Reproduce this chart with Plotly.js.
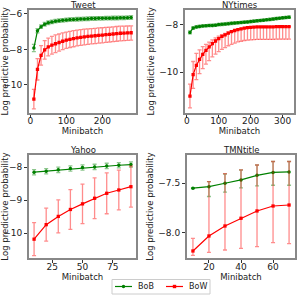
<!DOCTYPE html>
<html>
<head>
<meta charset="utf-8">
<script src="https://cdn.plot.ly/plotly-3.0.1.min.js"></script>
<style>html,body{margin:0;padding:0;background:#fff}#chart{width:298px;height:295px}</style>
</head>
<body>
<div id="chart"></div>
<script>
// ---------- Data ----------
const tweetX = [10,20,30,40,50,60,70,80,90,100,110,120,130,140,150,160,170,180,190,200,210,220,230,240,250,260,270,280];
const tweetBoB = [-7.92,-6.95,-6.72,-6.58,-6.50,-6.45,-6.41,-6.38,-6.36,-6.34,-6.32,-6.31,-6.30,-6.29,-6.28,-6.27,-6.26,-6.26,-6.25,-6.25,-6.24,-6.24,-6.23,-6.23,-6.22,-6.22,-6.21,-6.20];
const tweetBoBErr = [0.2,0.12,0.1,0.1,0.1,0.1,0.1,0.1,0.1,0.1,0.1,0.1,0.1,0.1,0.1,0.1,0.1,0.1,0.1,0.1,0.1,0.1,0.1,0.1,0.1,0.1,0.1,0.1];
const tweetBoW = [-10.80,-9.12,-8.33,-8.02,-7.86,-7.76,-7.68,-7.61,-7.54,-7.48,-7.43,-7.39,-7.35,-7.32,-7.29,-7.27,-7.25,-7.23,-7.21,-7.19,-7.17,-7.15,-7.13,-7.11,-7.09,-7.08,-7.07,-7.06];
const tweetBoWUp = [0.55,0.6,0.55,0.52,0.5,0.5,0.5,0.48,0.47,0.46,0.45,0.45,0.44,0.44,0.43,0.43,0.42,0.42,0.42,0.41,0.41,0.4,0.4,0.4,0.4,0.39,0.39,0.39];
const tweetBoWLo = [0.55,0.6,0.55,0.52,0.5,0.5,0.5,0.48,0.47,0.46,0.46,0.46,0.45,0.45,0.45,0.45,0.44,0.44,0.44,0.44,0.43,0.43,0.43,0.43,0.43,0.42,0.42,0.42];

const nytX = [10,20,30,40,50,60,70,80,90,100,110,120,130,140,150,160,170,180,190,200,210,220,230,240,250,260,270,280,290,300,310,320];
const nytBoB = [-8.33,-8.15,-8.10,-8.08,-8.06,-8.05,-8.04,-8.035,-8.025,-8.00,-7.99,-7.98,-7.965,-7.95,-7.94,-7.925,-7.915,-7.90,-7.89,-7.875,-7.86,-7.845,-7.83,-7.815,-7.80,-7.785,-7.77,-7.75,-7.735,-7.72,-7.705,-7.69];
const nytBoBErr = [0.06,0.05,0.05,0.05,0.05,0.05,0.05,0.05,0.05,0.05,0.05,0.05,0.05,0.05,0.05,0.05,0.05,0.05,0.05,0.05,0.05,0.05,0.05,0.05,0.05,0.05,0.05,0.05,0.05,0.05,0.05,0.05];
const nytBoW = [-11.00,-10.10,-9.71,-9.46,-9.25,-9.08,-8.94,-8.80,-8.69,-8.59,-8.50,-8.43,-8.36,-8.30,-8.25,-8.21,-8.18,-8.15,-8.13,-8.12,-8.11,-8.10,-8.10,-8.10,-8.10,-8.10,-8.10,-8.09,-8.09,-8.09,-8.09,-8.09];
const nytBoWUp = [0.5,0.55,0.5,0.4,0.32,0.25,0.2,0.16,0.13,0.1,0.08,0.06,0.05,0.04,0.03,0.02,0.02,0.01,0.01,0.01,0,0,0,0,0,0,0,0,0,0,0,0];
const nytBoWLo = [0.5,0.58,0.6,0.6,0.6,0.58,0.57,0.56,0.55,0.55,0.54,0.54,0.53,0.53,0.53,0.52,0.52,0.52,0.52,0.52,0.52,0.52,0.52,0.52,0.52,0.52,0.52,0.52,0.52,0.52,0.52,0.52];

const yahooX = [10,20,30,40,50,60,70,80,90];
const yahooBoB = [-8.15,-8.12,-8.08,-8.04,-8.01,-7.99,-7.96,-7.94,-7.92];
const yahooBoBErr = [0.08,0.08,0.08,0.08,0.08,0.08,0.08,0.08,0.08];
const yahooBoW = [-10.18,-9.74,-9.49,-9.28,-9.11,-8.94,-8.79,-8.69,-8.59];
const yahooBoWErr = [0.5,0.5,0.5,0.6,0.6,0.62,0.62,0.6,0.62];

const tmnX = [10,20,30,40,50,60,70];
const tmnBoB = [-7.55,-7.534,-7.50,-7.466,-7.42,-7.39,-7.385];
const tmnBoBUp = [0.005,0.05,0.094,0.1,0.105,0.11,0.105];
const tmnBoBLo = [0.005,0.1,0.09,0.08,0.107,0.13,0.135];
const tmnBoW = [-8.185,-8.033,-7.932,-7.854,-7.78,-7.73,-7.72];
const tmnBoWUp = [0.128,0.55,0.53,0.49,0.465,0.45,0.44];
const tmnBoWLo = [0.045,0.167,0.243,0.304,0.36,0.37,0.39];

const titles = ['Tweet','NYtimes','Yahoo','TMNtitle'];
const seriesNames = ['BoB','BoW'];

// ---------- Styles ----------
const GREEN = '#008000', RED = '#ff0000';
const GERR = 'rgba(0,128,0,0.45)', RERR = 'rgba(255,0,0,0.45)';
const FONT = 'DejaVu Sans, sans-serif';

function bob(x, y, up, lo, ax) {
  return {x: x, y: y, xaxis: 'x'+ax, yaxis: 'y'+ax, type: 'scatter', mode: 'lines+markers', name: seriesNames[0],
    showlegend: false,
    line: {color: GREEN, width: 1.2}, marker: {color: GREEN, size: 3.5, symbol: 'circle'},
    error_y: {type: 'data', symmetric: false, array: up, arrayminus: lo, color: GERR, thickness: 1.3, width: 2}};
}
function bow(x, y, up, lo, ax) {
  return {x: x, y: y, xaxis: 'x'+ax, yaxis: 'y'+ax, type: 'scatter', mode: 'lines+markers', name: seriesNames[1],
    showlegend: false,
    line: {color: RED, width: 1.2}, marker: {color: RED, size: 3.3, symbol: 'square'},
    error_y: {type: 'data', symmetric: false, array: up, arrayminus: lo, color: RERR, thickness: 1.3, width: 2}};
}

const data = [
  bob(tweetX, tweetBoB, tweetBoBErr, tweetBoBErr, ''),
  bow(tweetX, tweetBoW, tweetBoWUp, tweetBoWLo, ''),
  bob(nytX, nytBoB, nytBoBErr, nytBoBErr, '2'),
  bow(nytX, nytBoW, nytBoWUp, nytBoWLo, '2'),
  bob(yahooX, yahooBoB, yahooBoBErr, yahooBoBErr, '3'),
  bow(yahooX, yahooBoW, yahooBoWErr, yahooBoWErr, '3'),
  bob(tmnX, tmnBoB, tmnBoBUp, tmnBoBLo, '4'),
  bow(tmnX, tmnBoW, tmnBoWUp, tmnBoWLo, '4')
];

const W = 298, H = 295;
function dx(a, b) { return [a/W, b/W]; }
function dy(top, bot) { return [1-bot/H, 1-top/H]; }
function px(v) { return v/W; }
function py(v) { return 1 - v/H; }

function xa(dom, range, dtick, anchor) {
  return {domain: dom, range: range, dtick: dtick, tick0: 0, anchor: anchor,
    showline: true, mirror: true, linecolor: '#888', linewidth: 2,
    ticks: 'outside', ticklen: 3, tickcolor: '#333', showgrid: false, zeroline: false,
    tickfont: {size: 9, color: '#222'}, ticklabelstandoff: -4,
    title: {text: 'Minibatch', font: {size: 8.5, color: '#222'}, standoff: 0}};
}
function ya(dom, range, dtick, anchor, fmt) {
  const o = {domain: dom, range: range, dtick: dtick, tick0: 0, anchor: anchor,
    showline: true, mirror: true, linecolor: '#888', linewidth: 2,
    ticks: 'outside', ticklen: 3, tickcolor: '#333', showgrid: false, zeroline: false,
    tickfont: {size: 9, color: '#222'},
    title: {text: 'Log predictive probability', font: {size: 8.5, color: '#222'}, standoff: 3}};
  if (fmt) o.tickformat = fmt;
  return o;
}

const d1x = dx(29,136), d2x = dx(185,294), d3x = dx(29,136), d4x = dx(187,295);
const dTop = dy(10,112.5), dBot = dy(155,258);

function ttl(t, dxs, dys) {
  return {text: t, x: (dxs[0]+dxs[1])/2, y: dys[1], xref: 'paper', yref: 'paper',
    xanchor: 'center', yanchor: 'middle', showarrow: false, font: {size: 8.5, color: '#222'}, yshift: 5};
}

// Legend (drawn as a compact box like the original)
const LY = 286.5;
const legendShapes = [
  {type: 'rect', xref: 'paper', yref: 'paper', x0: px(112), x1: px(210), y0: py(294), y1: py(279.5),
   line: {color: '#cccccc', width: 1}, fillcolor: 'rgba(255,255,255,0.9)'},
  {type: 'line', xref: 'paper', yref: 'paper', x0: px(115), x1: px(132), y0: py(LY), y1: py(LY), line: {color: GREEN, width: 1.2}},
  {type: 'circle', xref: 'paper', yref: 'paper', x0: px(121.8), x1: px(125.2), y0: py(LY+1.7), y1: py(LY-1.7), line: {color: GREEN, width: 0}, fillcolor: GREEN},
  {type: 'line', xref: 'paper', yref: 'paper', x0: px(166), x1: px(183), y0: py(LY), y1: py(LY), line: {color: RED, width: 1.2}},
  {type: 'rect', xref: 'paper', yref: 'paper', x0: px(172.8), x1: px(176.2), y0: py(LY+1.7), y1: py(LY-1.7), line: {color: RED, width: 0}, fillcolor: RED}
];
const legendTexts = [
  {text: seriesNames[0], x: px(136), y: py(LY), xref: 'paper', yref: 'paper', xanchor: 'left', yanchor: 'middle', showarrow: false, font: {size: 8, color: '#222'}},
  {text: seriesNames[1], x: px(187), y: py(LY), xref: 'paper', yref: 'paper', xanchor: 'left', yanchor: 'middle', showarrow: false, font: {size: 8, color: '#222'}}
];

const layout = {
  width: W, height: H,
  margin: {l: 0, r: 0, t: 0, b: 0, autoexpand: false},
  paper_bgcolor: '#fff', plot_bgcolor: '#fff',
  font: {family: FONT, size: 9, color: '#222'},
  xaxis: xa(d1x, [-3.5, 293.5], 100, 'y'),
  yaxis: ya(dTop, [-11.55, -5.78], 2, 'x'),
  xaxis2: xa(d2x, [-5.5, 335.5], 100, 'y2'),
  yaxis2: ya(dTop, [-11.69, -7.39], 2, 'x2'),
  xaxis3: xa(d3x, [5.8, 94.2], 25, 'y3'),
  yaxis3: ya(dBot, [-10.75, -7.63], 1, 'x3'),
  xaxis4: xa(d4x, [6.3, 73.7], 20, 'y4'),
  yaxis4: ya(dBot, [-8.256, -7.214], 0.5, 'x4', '.1f'),
  showlegend: false,
  shapes: legendShapes,
  annotations: [ttl(titles[0], d1x, dTop), ttl(titles[1], d2x, dTop), ttl(titles[2], d3x, dBot), ttl(titles[3], d4x, dBot)].concat(legendTexts)
};

Plotly.newPlot('chart', data, layout, {displayModeBar: false, staticPlot: true});
</script>
</body>
</html>
